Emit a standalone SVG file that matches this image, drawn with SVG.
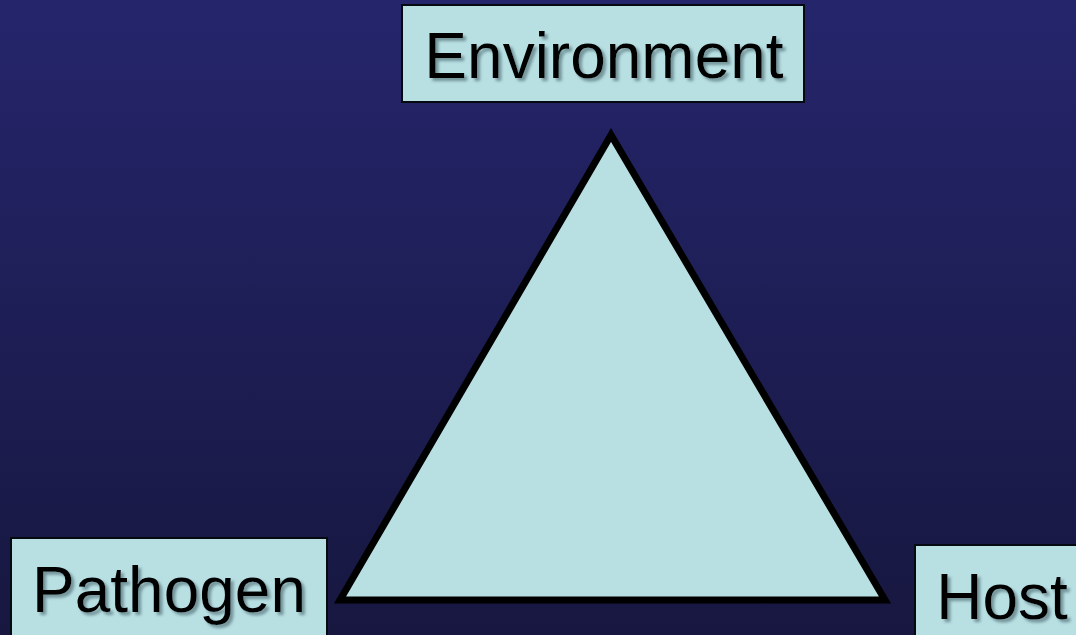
<svg xmlns="http://www.w3.org/2000/svg" width="1076" height="635" viewBox="0 0 1076 635">
<defs>
<linearGradient id="bg" x1="0" y1="0" x2="0" y2="1">
<stop offset="0" stop-color="#25256C"/>
<stop offset="1" stop-color="#171740"/>
</linearGradient>
<filter id="sh" x="-10%" y="-20%" width="120%" height="150%">
<feGaussianBlur in="SourceAlpha" stdDeviation="1.5"/>
<feOffset dx="3" dy="3" result="b"/>
<feFlood flood-color="#6a8a90" flood-opacity="0.9"/>
<feComposite in2="b" operator="in"/>
<feMerge><feMergeNode/><feMergeNode in="SourceGraphic"/></feMerge>
</filter>
<style>
.box{fill:#B8E0E3;stroke:#050a10;stroke-width:2}
.lbl{font-family:"Liberation Sans",Arial,sans-serif;font-size:64px;fill:#000;filter:url(#sh)}
</style>
</defs>
<rect width="1076" height="635" fill="url(#bg)"/>
<g id="triangle">
<polygon points="611,135 340,600 885,600" fill="#B8E0E3" stroke="#000" stroke-width="7" stroke-linejoin="miter"/>
</g>
<g id="connectors"></g>
<g id="environment">
<rect class="box" x="402" y="5" width="402" height="97"/>
<text class="lbl" x="604" y="78" text-anchor="middle">Environment</text>
</g>
<g id="pathogen">
<rect class="box" x="11" y="538" width="316" height="100"/>
<text class="lbl" x="169" y="612" text-anchor="middle">Pathogen</text>
</g>
<g id="host">
<rect class="box" x="915" y="545" width="165" height="95"/>
<text class="lbl" x="1002" y="619" text-anchor="middle">Host</text>
</g>
</svg>
